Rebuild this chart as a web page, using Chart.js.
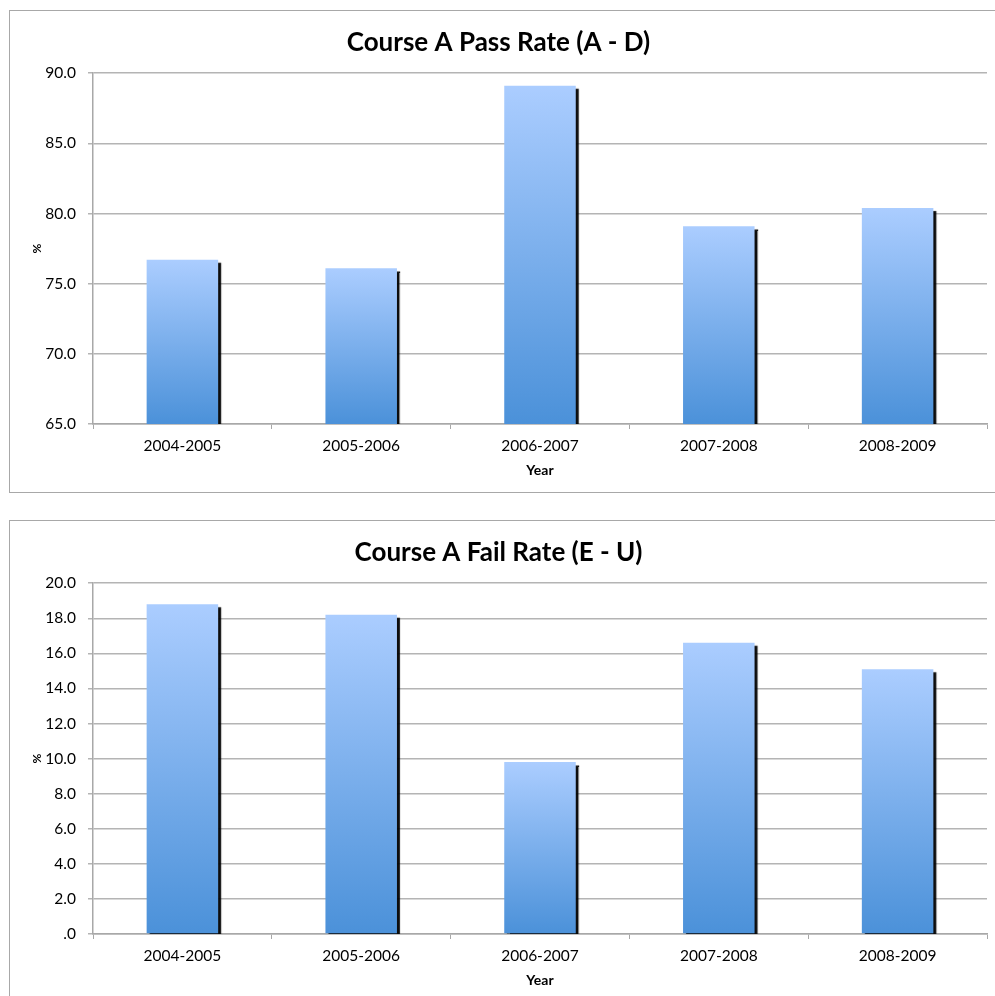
<!DOCTYPE html>
<html>
<head>
<meta charset="utf-8">
<script src="https://cdn.jsdelivr.net/npm/chart.js@4"></script>
<style>
  html, body { margin: 0; padding: 0; background: #fff; overflow: hidden; }
  body { width: 995px; height: 996px; position: relative; }
  .box {
    position: absolute;
    left: 9px;
    width: 1000px;
    height: 481px;
    border: 1px solid #a8a8a8;
  }
  .inner { position: absolute; left: 0; top: 0; width: 985px; height: 481px; }
</style>
</head>
<body>
<div class="box" style="top:10px"><div class="inner"><canvas id="passChart"></canvas></div></div>
<div class="box" style="top:520px"><div class="inner"><canvas id="failChart"></canvas></div></div>
<script>
const years = ['2004-2005', '2005-2006', '2006-2007', '2007-2008', '2008-2009'];
const passRate = [76.7, 76.1, 89.1, 79.1, 80.4];
const failRate = [18.8, 18.2, 9.8, 16.6, 15.1];

const FONT = 'Lato';

function barGradient(context) {
  const chart = context.chart;
  if (!chart.chartArea || context.raw == null) return '#7fb0ea';
  const y = chart.scales.y;
  const top = y.getPixelForValue(context.raw);
  const bottom = y.getPixelForValue(y.min);
  if (!isFinite(top) || !isFinite(bottom) || top === bottom) return '#7fb0ea';
  const g = chart.ctx.createLinearGradient(0, top, 0, bottom);
  g.addColorStop(0, '#abcdff');
  g.addColorStop(1, '#4b91d9');
  return g;
}

const barShadow = {
  id: 'barShadow',
  beforeDatasetsDraw(chart) {
    const ctx = chart.ctx;
    ctx.save();
    ctx.shadowColor = 'rgba(0,0,0,0.95)';
    ctx.shadowOffsetX = 3;
    ctx.shadowOffsetY = 3;
    ctx.shadowBlur = 1;
  },
  afterDatasetsDraw(chart) {
    chart.ctx.restore();
  }
};

function fmt(v) {
  const s = Number(v).toFixed(1);
  return s.startsWith('0.') ? s.slice(1) : s;
}

function createChart(id, title, values, min, max, step) {
  const ctx = document.getElementById(id).getContext('2d');
  return new Chart(ctx, {
    type: 'bar',
    data: {
      labels: years,
      datasets: [{
        data: values,
        backgroundColor: barGradient,
        borderWidth: 0,
        barPercentage: 0.4,
        categoryPercentage: 1.0,
      }],
    },
    plugins: [barShadow],
    options: {
      responsive: true,
      maintainAspectRatio: false,
      animation: false,
      layout: { padding: { left: 0, right: 8, top: 0, bottom: 0 } },
      plugins: {
        legend: { display: false },
        tooltip: { enabled: false },
        title: {
          display: true,
          text: title,
          color: '#000',
          font: { family: FONT, size: 26, weight: 'bold' },
          padding: { top: 16, bottom: 15 },
        },
      },
      scales: {
        x: {
          afterFit: (s) => { s.height = 68; },
          grid: {
            offset: true,
            drawOnChartArea: false,
            drawTicks: true,
            tickLength: 5,
            color: '#a8a8a8',
          },
          border: { color: '#a8a8a8', width: 1.5 },
          ticks: {
            color: '#000',
            font: { family: FONT, size: 15.5 },
            padding: 8,
            maxRotation: 0,
          },
          title: {
            display: true,
            text: 'Year',
            color: '#000',
            font: { family: FONT, size: 14, weight: 'bold' },
            padding: { top: 4, bottom: 13 },
          },
        },
        y: {
          min: min,
          max: max,
          afterFit: (s) => { s.width = 83; },
          grid: {
            color: '#b4b4b4',
            lineWidth: 1.5,
            tickLength: 5,
          },
          border: { color: '#a8a8a8', width: 1.5 },
          ticks: {
            stepSize: step,
            color: '#000',
            font: { family: FONT, size: 15.5 },
            padding: 12,
            callback: (v) => fmt(v),
          },
          title: {
            display: true,
            text: '%',
            color: '#000',
            font: { family: FONT, size: 12, weight: 'bold' },
            padding: { top: 20, bottom: 0 },
          },
        },
      },
    },
  });
}

createChart('passChart', 'Course A Pass Rate (A - D)', passRate, 65, 90, 5);
createChart('failChart', 'Course A Fail Rate (E - U)', failRate, 0, 20, 2);
</script>
</body>
</html>
